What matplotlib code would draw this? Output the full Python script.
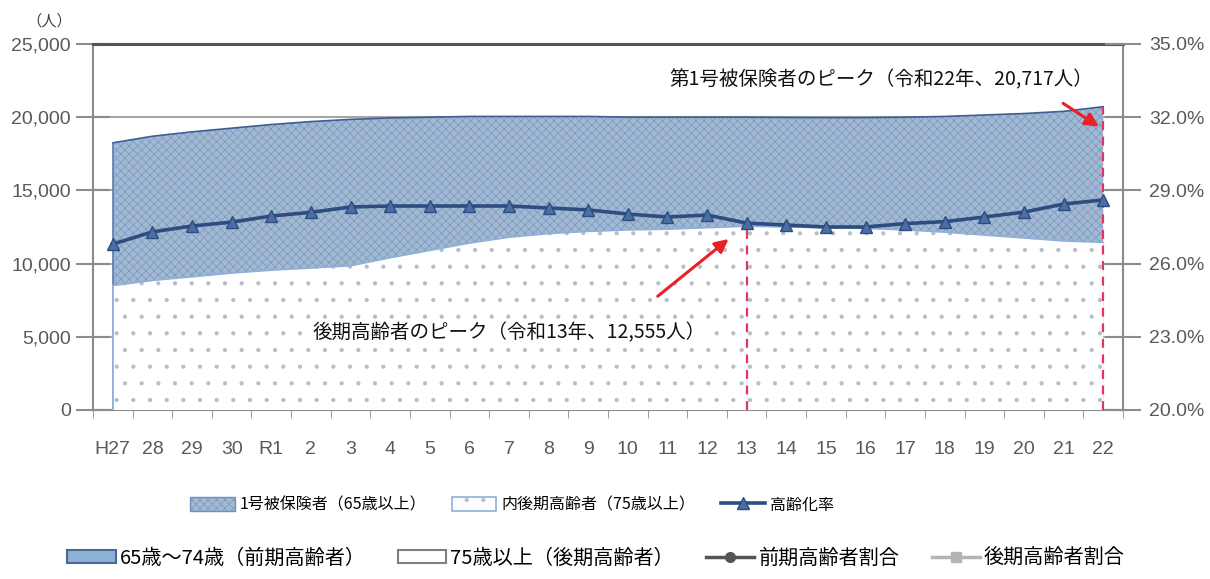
import matplotlib
matplotlib.use("Agg")
import matplotlib.pyplot as plt
from matplotlib.lines import Line2D
from matplotlib.patches import Rectangle
from matplotlib.legend_handler import HandlerTuple
from matplotlib.ticker import FuncFormatter, FixedLocator
import numpy as np

plt.rcParams['font.family'] = ['Noto Sans CJK JP', 'DejaVu Sans']
plt.rcParams['hatch.linewidth'] = 0.6

# 年度（平成27年～令和22年）
years = ['H27', '28', '29', '30', 'R1', '2', '3', '4', '5', '6', '7', '8', '9',
         '10', '11', '12', '13', '14', '15', '16', '17', '18', '19', '20', '21', '22']

# 第1号被保険者（65歳以上）
total_65 = [18250, 18700, 19000, 19250, 19500, 19700, 19850, 19950, 20000, 20050,
            20050, 20050, 20050, 20000, 20000, 20000, 20000, 19980, 19970, 19970,
            20000, 20050, 20150, 20250, 20400, 20717]

# うち後期高齢者（75歳以上）
late_75 = [8500, 8850, 9100, 9350, 9550, 9700, 9850, 10400, 10900, 11400,
           11800, 12050, 12200, 12300, 12350, 12450, 12555, 12500, 12450, 12400,
           12300, 12150, 11950, 11750, 11550, 11450]

# 高齢化率
aging_rate = [0.268, 0.273, 0.2754, 0.277, 0.2795, 0.281, 0.2832, 0.2836, 0.2836, 0.2836,
              0.2836, 0.2828, 0.282, 0.2803, 0.2791, 0.2799, 0.2766, 0.2758, 0.2750, 0.2750,
              0.2764, 0.2772, 0.2791, 0.2811, 0.2844, 0.2861]

late_peak_year = '13'
total_peak_year = '22'

x = np.arange(len(years))
i_late = years.index(late_peak_year)
i_total = years.index(total_peak_year)

BLUE_FACE = '#a2b9d3'
BLUE_HATCH = '#7f9bc0'
BLUE_EDGE = '#3d5f91'
DOT_HATCH = '#b3bfcc'
DOT_EDGE = '#8fb0d8'

fig = plt.figure(figsize=(12.1, 5.79), dpi=100)
ax = fig.add_axes([93 / 1210, 1 - 410 / 579, (1123 - 93) / 1210, (410 - 44) / 579])

tick_font = dict(family='Liberation Sans', size=14, color='#595959')

# 人数（左軸）
ax.set_xlim(-0.5, len(years) - 0.5)
ax.set_ylim(0, 25000)
ax.set_yticks(np.arange(0, 25001, 5000))
ax.yaxis.set_major_formatter(FuncFormatter(lambda v, p: f'{int(v):,}'))
ax.grid(axis='y', color='#a6a6a6', linewidth=1.5, zorder=0)
ax.set_axisbelow(True)

area_total = ax.fill_between(x, 0, total_65, facecolor=BLUE_FACE, edgecolor=BLUE_HATCH,
                             hatch='xxxx', linewidth=0, zorder=1)
ax.plot(x, total_65, color=BLUE_EDGE, linewidth=1.2, zorder=2)
ax.plot([x[0], x[0]], [0, total_65[0]], color='#5b7fb0', linewidth=1.2, zorder=2)

area_late = ax.fill_between(x, 0, late_75, facecolor='white', edgecolor=DOT_HATCH,
                            hatch='.', linewidth=0, zorder=3)
ax.plot(x, late_75, color=DOT_EDGE, linewidth=1.2, zorder=4)
ax.plot([x[0], x[0]], [0, late_75[0]], color=DOT_EDGE, linewidth=1.2, zorder=4)

# ピーク位置の破線
ax.vlines([x[i_late]], 0, late_75[i_late], colors='#e8335f', linestyles=(0, (4, 3)),
          linewidth=1.6, zorder=5)
ax.vlines([x[i_total]], 0, total_65[i_total], colors='#e8335f', linestyles=(0, (4, 3)),
          linewidth=1.6, zorder=5)

ax.annotate('', xy=(x[i_late] - 0.4, 11800), xytext=(x[i_late] - 2.3, 7650),
            arrowprops=dict(arrowstyle='-|>', color='#e82028', lw=2.2, mutation_scale=20),
            zorder=6)
ax.annotate('', xy=(x[i_total] - 0.05, 19250), xytext=(x[i_total] - 1.07, 21050),
            arrowprops=dict(arrowstyle='-|>', color='#e82028', lw=2.2, mutation_scale=20),
            zorder=6)

ax.text(10.0, 5260, f'後期高齢者のピーク（令和{late_peak_year}年、{late_75[i_late]:,}人）',
        ha='center', va='center', fontsize=14, color='#111111', zorder=7,
        bbox=dict(facecolor='white', edgecolor='none', pad=2))
ax.text(19.4, 22540, f'第1号被保険者のピーク（令和{total_peak_year}年、{total_65[i_total]:,}人）',
        ha='center', va='center', fontsize=14, color='#111111', zorder=7,
        bbox=dict(facecolor='white', edgecolor='none', pad=2))

ax.text(-0.02, 1.0 + 14 / 366, '（人）', transform=ax.transAxes, ha='right', va='bottom',
        fontsize=11, color='#404040')

# 軸の体裁
for side in ['left', 'bottom', 'right']:
    ax.spines[side].set_color('#8c8c8c')
    ax.spines[side].set_linewidth(1.5)
ax.spines['top'].set_color('#555555')
ax.spines['top'].set_linewidth(2.2)

ax.set_xticks(x)
ax.set_xticklabels(years)
ax.xaxis.set_minor_locator(FixedLocator(np.arange(-0.5, len(years), 1.0)))
ax.tick_params(axis='x', which='major', length=0, pad=22)
ax.tick_params(axis='x', which='minor', length=6, color='#8c8c8c', direction='out')
ax.tick_params(axis='y', which='major', length=24, direction='inout', color='#8c8c8c',
               width=1.5, pad=4)
for lab in ax.get_xticklabels() + ax.get_yticklabels():
    lab.set_fontfamily(tick_font['family'])
    lab.set_fontsize(tick_font['size'])
    lab.set_color(tick_font['color'])

# 高齢化率（右軸）
ax2 = ax.twinx()
ax2.set_ylim(0.20, 0.35)
ax2.set_yticks(np.arange(0.20, 0.3501, 0.03))
ax2.yaxis.set_major_formatter(FuncFormatter(lambda v, p: f'{v * 100:.1f}%'))
rate_line, = ax2.plot(x, aging_rate, color='#2e4d7e', linewidth=2.6, marker='^',
                      markersize=8, markerfacecolor='#4a6ea6', markeredgecolor='#2e4d7e',
                      zorder=8)
ax2.tick_params(axis='y', length=26, direction='inout', color='#8c8c8c', width=1.5, pad=6)
for side in ax2.spines:
    ax2.spines[side].set_visible(False)
for lab in ax2.get_yticklabels():
    lab.set_fontfamily(tick_font['family'])
    lab.set_fontsize(tick_font['size'])
    lab.set_color(tick_font['color'])

# 凡例（上段）：塗りと枠線を重ねた見本
key_total = (Rectangle((0, 0), 1, 1, facecolor=BLUE_FACE, edgecolor=BLUE_HATCH, hatch='xxxx',
                       linewidth=0),
             Rectangle((0, 0), 1, 1, facecolor='none', edgecolor='#6f8fbf', linewidth=1.0))
key_late = (Rectangle((0, 0), 1, 1, facecolor='white', edgecolor=DOT_HATCH, hatch='.',
                      linewidth=0),
            Rectangle((0, 0), 1, 1, facecolor='none', edgecolor=DOT_EDGE, linewidth=1.2))
leg1 = fig.legend([key_total, key_late, rate_line],
                  ['1号被保険者（65歳以上）', '内後期高齢者（75歳以上）', '高齢化率'],
                  loc='center', bbox_to_anchor=(512 / 1210, 1 - 505 / 579), ncol=3,
                  frameon=False, fontsize=11.5, handlelength=2.8, handleheight=1.0,
                  columnspacing=1.6, handletextpad=0.3,
                  handler_map={tuple: HandlerTuple(ndivide=1)})

# 凡例（下段）
h_early = Rectangle((0, 0), 1, 1, facecolor='#8fb0d6', edgecolor='#4a6a95', linewidth=1.5)
h_late = Rectangle((0, 0), 1, 1, facecolor='white', edgecolor='#7f7f7f', linewidth=1.5)
h_early_ratio = Line2D([], [], color='#555555', linewidth=2.5, marker='o', markersize=7)
h_late_ratio = Line2D([], [], color='#b4b4b4', linewidth=2.5, marker='s', markersize=7)
leg2 = fig.legend([h_early, h_late, h_early_ratio, h_late_ratio],
                  ['65歳〜74歳（前期高齢者）', '75歳以上（後期高齢者）', '前期高齢者割合', '後期高齢者割合'],
                  loc='center', bbox_to_anchor=(596 / 1210, 1 - 558 / 579), ncol=4,
                  frameon=False, fontsize=14.5, handlelength=2.4, handleheight=0.6,
                  columnspacing=1.6, handletextpad=0.2)

fig.savefig('out.png', dpi=100)
